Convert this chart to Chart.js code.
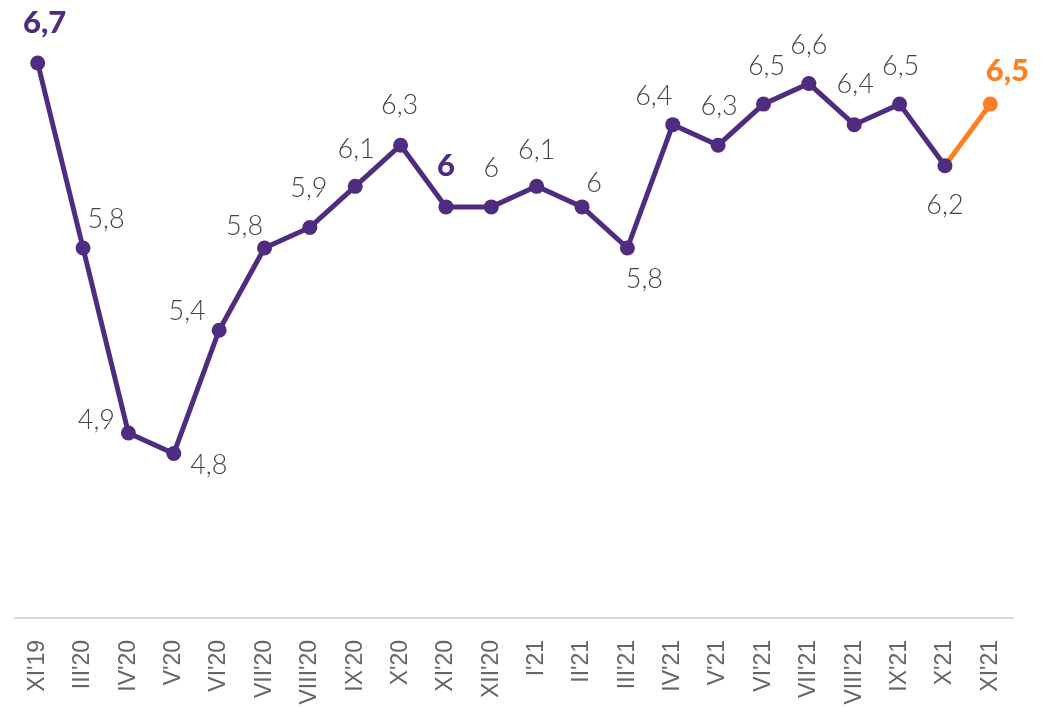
<!DOCTYPE html>
<html>
<head>
<meta charset="utf-8">
<script src="https://cdn.jsdelivr.net/npm/chart.js@4"></script>
<style>
html,body{margin:0;padding:0;background:#fff;}
#wrap{width:1053px;height:712px;position:relative;}
</style>
</head>
<body>
<div id="wrap"><canvas id="c" width="1053" height="712"></canvas></div>
<script>
const categories = ["XI'19","III'20","IV'20","V'20","VI'20","VII'20","VIII'20","IX'20","X'20","XI'20","XII'20","I'21","II'21","III'21","IV'21","V'21","VI'21","VII'21","VIII'21","IX'21","X'21","XI'21"];
const values = [6.7,5.8,4.9,4.8,5.4,5.8,5.9,6.1,6.3,6.0,6.0,6.1,6.0,5.8,6.4,6.3,6.5,6.6,6.4,6.5,6.2,6.5];
const highlighted = [0, 9, 21];

const PURPLE = '#4f2c80';
const ORANGE = '#fe7f22';
const LAST = values.length - 1;

// label placement offsets (dx, dy) relative to each point
const labelOffsets = [
  [7,-40],[23,-29],[-32,-13],[35,12],[-32,-19],[-20,-22],[-1,-39],[1,-37],[-1,-40],[0,-41],
  [0,-39],[0,-36],[12,-24],[17,31],[-19,-28],[1,-39],[3,-38],[0,-38],[1,-40],[1,-38],[0,40],[17,-33]
];

const labelPlugin = {
  id: 'valueLabels',
  afterDatasetsDraw(chart) {
    const ctx = chart.ctx;
    const meta = chart.getDatasetMeta(0);
    ctx.save();
    ctx.textAlign = 'center';
    ctx.textBaseline = 'middle';
    meta.data.forEach((pt, i) => {
      const txt = String(values[i]).replace('.', ',');
      const off = labelOffsets[i];
      if (highlighted.includes(i)) {
        ctx.font = '900 31px Lato';
        ctx.fillStyle = i === LAST ? ORANGE : PURPLE;
      } else {
        ctx.font = '300 27px Lato';
        ctx.fillStyle = '#444444';
      }
      ctx.fillText(txt, pt.x + off[0], pt.y + off[1]);
    });
    ctx.restore();
  }
};

new Chart(document.getElementById('c'), {
  type: 'line',
  data: {
    labels: categories,
    datasets: [{
      data: values,
      borderColor: PURPLE,
      borderWidth: 5,
      pointRadius: 7.5,
      pointHoverRadius: 7.5,
      pointBorderWidth: 0,
      pointBackgroundColor: values.map((v, i) => i === LAST ? ORANGE : PURPLE),
      segment: {
        borderColor: c => c.p1DataIndex === LAST ? ORANGE : PURPLE
      },
      tension: 0,
      clip: false
    }]
  },
  options: {
    responsive: false,
    animation: false,
    devicePixelRatio: 1,
    layout: { padding: { left: 15, right: 40, top: 0, bottom: 0 } },
    plugins: { legend: { display: false }, tooltip: { enabled: false } },
    scales: {
      y: { display: false, min: 4, max: 6.97 },
      x: {
        offset: true,
        grid: { display: false, drawTicks: false },
        border: { display: true, color: '#d9d9d9', width: 2 },
        ticks: {
          autoSkip: false,
          maxRotation: 90,
          minRotation: 90,
          padding: 22,
          color: '#666666',
          font: { family: 'Liberation Sans', size: 23 }
        },
        afterFit(scale) { scale.height = 94; }
      }
    }
  },
  plugins: [labelPlugin]
});
</script>
</body>
</html>
